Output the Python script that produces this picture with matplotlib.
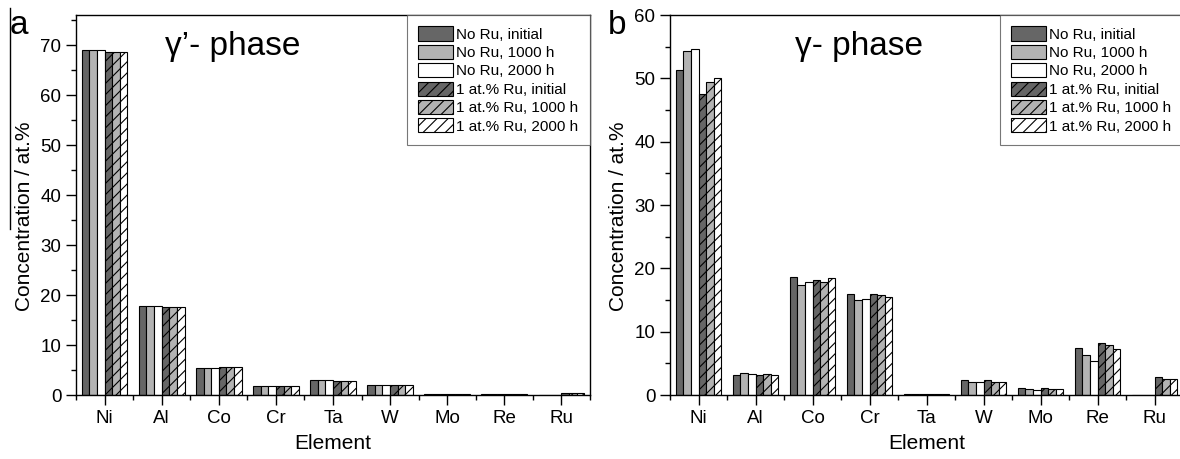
import matplotlib
matplotlib.use("Agg")
import matplotlib.pyplot as plt
import numpy as np
from matplotlib.lines import Line2D

plt.rcParams['font.family'] = ['Liberation Sans', 'DejaVu Sans']
plt.rcParams['hatch.linewidth'] = 0.8

elements = ["Ni", "Al", "Co", "Cr", "Ta", "W", "Mo", "Re", "Ru"]
series_names = ["No Ru, initial", "No Ru, 1000 h", "No Ru, 2000 h",
                "1 at.% Ru, initial", "1 at.% Ru, 1000 h", "1 at.% Ru, 2000 h"]

# gamma-prime phase (panel a)
gp_noru_initial = [69.1, 17.9, 5.5, 1.8, 3.1, 2.0, 0.3, 0.2, 0.0]
gp_noru_1000 = [69.1, 17.9, 5.5, 1.8, 3.1, 2.0, 0.3, 0.2, 0.0]
gp_noru_2000 = [69.1, 17.9, 5.5, 1.8, 3.1, 2.0, 0.3, 0.2, 0.0]
gp_ru_initial = [68.7, 17.7, 5.6, 1.8, 2.9, 2.0, 0.3, 0.2, 0.5]
gp_ru_1000 = [68.7, 17.7, 5.6, 1.8, 2.9, 2.0, 0.3, 0.2, 0.5]
gp_ru_2000 = [68.7, 17.7, 5.6, 1.8, 2.9, 2.0, 0.3, 0.2, 0.5]

# gamma phase (panel b)
g_noru_initial = [51.3, 3.2, 18.6, 15.9, 0.1, 2.3, 1.1, 7.4, 0.0]
g_noru_1000 = [54.3, 3.5, 17.4, 15.0, 0.1, 2.1, 1.0, 6.3, 0.0]
g_noru_2000 = [54.7, 3.3, 17.8, 15.1, 0.1, 2.0, 0.8, 5.4, 0.0]
g_ru_initial = [47.6, 3.2, 18.1, 15.9, 0.1, 2.3, 1.1, 8.2, 2.9]
g_ru_1000 = [49.4, 3.3, 17.8, 15.8, 0.1, 2.0, 0.9, 7.9, 2.6]
g_ru_2000 = [50.0, 3.1, 18.4, 15.5, 0.1, 2.0, 0.9, 7.3, 2.6]

gp_series = [gp_noru_initial, gp_noru_1000, gp_noru_2000, gp_ru_initial, gp_ru_1000, gp_ru_2000]
g_series = [g_noru_initial, g_noru_1000, g_noru_2000, g_ru_initial, g_ru_1000, g_ru_2000]

faces = ["#666666", "#b3b3b3", "#ffffff", "#666666", "#b3b3b3", "#ffffff"]
hatches = [None, None, None, "///", "///", "///"]

W, H = 1180, 459
fig = plt.figure(figsize=(W / 100, H / 100), dpi=100)

def px_axes(x0, x1, ytop, ybot):
    return fig.add_axes([x0 / W, 1 - ybot / H, (x1 - x0) / W, (ybot - ytop) / H])

ax_a = px_axes(76, 590, 15, 395)
ax_b = px_axes(670, 1183, 15, 395)

def draw(ax, series, ymax, yticks, title, title_x):
    x = np.arange(1, len(elements) + 1)
    n = len(series)
    w = 0.8 / n
    for i, vals in enumerate(series):
        ax.bar(x - 0.4 + w * (i + 0.5), vals, width=w, color=faces[i], edgecolor="black",
               linewidth=0.8, hatch=hatches[i], label=series_names[i])
    ax.set_xlim(0.5, len(elements) + 0.5)
    ax.set_ylim(0, ymax)
    ax.set_xticks(x)
    ax.set_xticklabels(elements, fontsize=13.5)
    ax.set_xticks(np.arange(0.5, len(elements) + 1, 1.0), minor=True)
    ax.set_yticks(yticks)
    ax.set_yticks(np.arange(0, ymax, 5), minor=True)
    ax.tick_params(axis='y', labelsize=13.5)
    ax.tick_params(which='major', direction='out', length=7, width=1)
    ax.tick_params(which='minor', direction='out', length=3.5, width=1)
    for s in ax.spines.values():
        s.set_linewidth(1.0)
    ax.set_xlabel("Element", fontsize=15, labelpad=5)
    ax.set_ylabel("Concentration / at.%", fontsize=15)
    ax.yaxis.set_label_coords(-0.082, 0.47)
    ax.text(title_x, 0.895, title, transform=ax.transAxes, fontsize=24, va='baseline', ha='left')
    leg = ax.legend(loc='upper right', borderaxespad=0, fontsize=11, frameon=True, fancybox=False,
                    handlelength=2.3, handleheight=1.05, labelspacing=0.2, handletextpad=0.2,
                    borderpad=0.75, edgecolor="#555555")
    leg.get_frame().set_linewidth(0.8)

draw(ax_a, gp_series, 76, np.arange(0, 71, 10), "γ’- phase", 0.173)
draw(ax_b, g_series, 60, np.arange(0, 61, 10), "γ- phase", 0.244)

fig.text(10 / W, 1 - 34 / H, "a", fontsize=24, va='baseline', ha='left')
fig.text(608 / W, 1 - 34 / H, "b", fontsize=24, va='baseline', ha='left')
fig.add_artist(Line2D([10 / W, 10 / W], [1 - 8 / H, 1 - 229 / H], color="black", linewidth=1.0))

fig.savefig("out.png", dpi=100)
